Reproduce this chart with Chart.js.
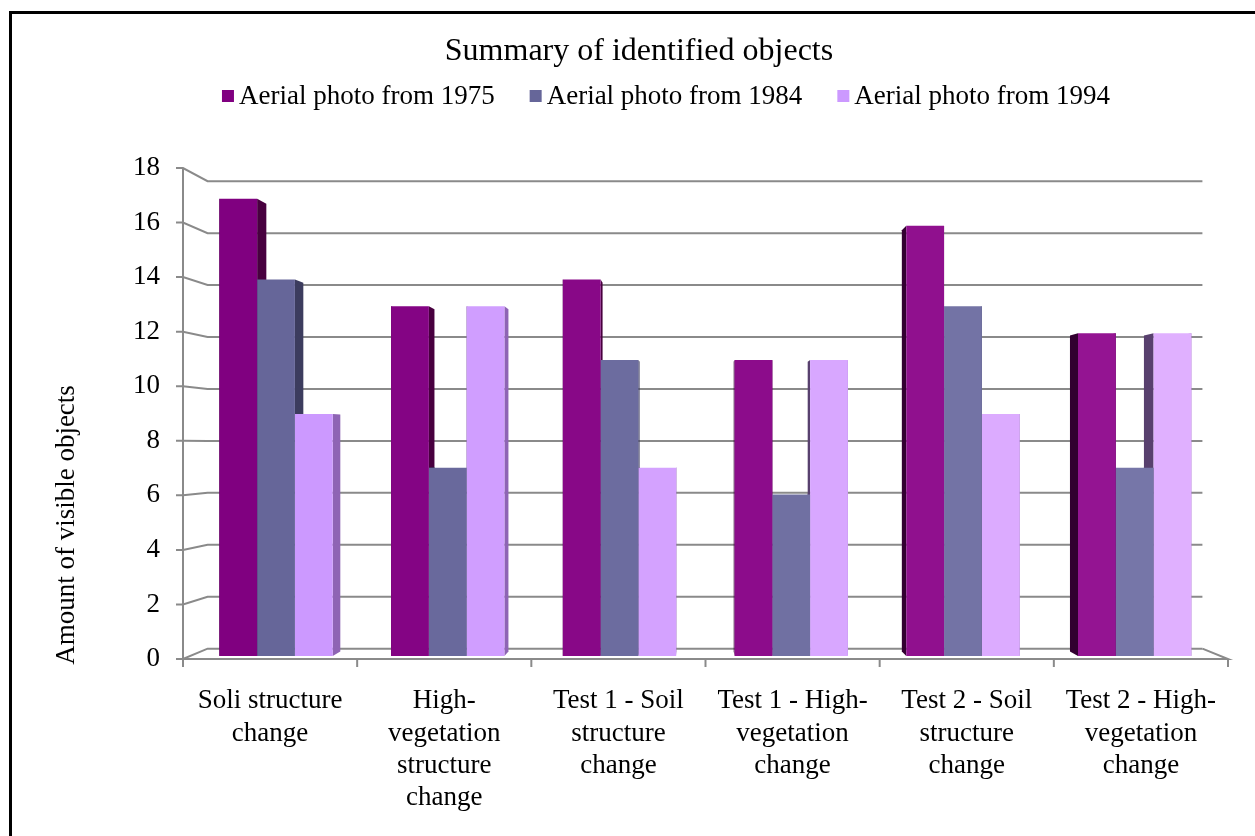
<!DOCTYPE html>
<html>
<head>
<meta charset="utf-8">
<script src="https://cdn.jsdelivr.net/npm/chart.js@4.4.1/dist/chart.umd.min.js"></script>
<style>
  html, body { margin: 0; padding: 0; background: #ffffff; overflow: hidden; }
  #wrap { position: relative; width: 1255px; height: 836px; }
  #frame { position: absolute; left: 9px; top: 11px; width: 1400px; height: 1000px;
           border-left: 3px solid #000; border-top: 3px solid #000; pointer-events: none; }
  canvas { position: absolute; left: 0; top: 0; }
</style>
</head>
<body>
<div id="wrap">
  <canvas id="chart" width="1255" height="836"></canvas>
  <div id="frame"></div>
</div>
<script>
// Category labels (wrapped the way they appear under the axis)
const categories = [
  ["Soli structure", "change"],
  ["High-", "vegetation", "structure", "change"],
  ["Test 1 - Soil", "structure", "change"],
  ["Test 1 - High-", "vegetation", "change"],
  ["Test 2 - Soil", "structure", "change"],
  ["Test 2 - High-", "vegetation", "change"]
];
const seriesNames = ["Aerial photo from 1975", "Aerial photo from 1984", "Aerial photo from 1994"];
const photo1975 = [17, 13, 14, 11, 16, 12];
const photo1984 = [14, 7, 11, 6, 13, 7];
const photo1994 = [9, 13, 7, 11, 9, 12];
const yTicks = [0, 2, 4, 6, 8, 10, 12, 14, 16, 18];
const chartTitle = "Summary of identified objects";
const yAxisTitle = "Amount of visible objects";

// front colour at the left of the plot, front colour at the right, shaded side faces
const palette = [
  { from: [128, 0, 128],   to: [148, 20, 146],  right: "#48003f", left: "#320030", legend: "#800080" },
  { from: [102, 102, 153], to: [118, 118, 168], right: "#3c3c5e", left: "#2e2e4a", legend: "#666699" },
  { from: [204, 153, 255], to: [224, 176, 255], right: "#8e64b4", left: "#58406e", legend: "#cc99ff" }
];

function mix(a, b, t) {
  const c = a.map((v, i) => Math.round(v + (b[i] - v) * t));
  return `rgb(${c[0]},${c[1]},${c[2]})`;
}

const SERIF = "'Liberation Serif', 'Times New Roman', serif";
const WALL_DEPTH = 0.952;   // back wall relative to the front plane
const BAR_PLANE = 0.986;    // front faces of the columns sit slightly behind the front plane
const BAR_DEPTH = 0.979;    // back faces relative to the column front faces
const GRID = "#8a8a8a";

function vanish(area) {
  return [area.left + 0.49 * (area.right - area.left), area.top + 0.56 * (area.bottom - area.top)];
}
function project(area, x, y, s) {
  const [vx, vy] = vanish(area);
  return [vx + (x - vx) * s, vy + (y - vy) * s];
}

// Draws the 3-D back wall, floor and the shaded sides of each column
const depth3d = {
  id: "depth3d",
  afterUpdate(chart) {
    // push the columns into their own depth plane
    const a = chart.chartArea;
    const [vx, vy] = vanish(a);
    chart.data.datasets.forEach((ds, di) => {
      chart.getDatasetMeta(di).data.forEach(el => {
        el.x = vx + (el.x - vx) * BAR_PLANE;
        el.y = vy + (el.y - vy) * BAR_PLANE;
        el.base = vy + (el.base - vy) * BAR_PLANE;
        el.width = el.width * BAR_PLANE;
      });
    });
  },
  beforeDatasetsDraw(chart) {
    const ctx = chart.ctx;
    const a = chart.chartArea;
    const ys = chart.scales.y;
    const xs = chart.scales.x;
    ctx.save();
    ctx.strokeStyle = GRID;
    ctx.lineWidth = 2;
    ctx.lineCap = "butt";

    yTicks.forEach(v => {
      const y = ys.getPixelForValue(v);
      const [bx, by] = project(a, a.left, y, WALL_DEPTH);
      const [rx] = project(a, a.right, y, WALL_DEPTH);
      ctx.beginPath();
      ctx.moveTo(a.left - 7, y);
      ctx.lineTo(a.left, y);
      ctx.lineTo(bx, by);
      ctx.lineTo(rx, by);
      ctx.stroke();
    });
    // floor: right edge and front edge
    const yb = ys.getPixelForValue(0);
    const [rbx, rby] = project(a, a.right, yb, WALL_DEPTH);
    ctx.beginPath();
    ctx.moveTo(rbx, rby);
    ctx.lineTo(a.right, yb);
    ctx.lineTo(a.left, yb);
    ctx.stroke();
    // vertical axis
    ctx.beginPath();
    ctx.moveTo(a.left, ys.getPixelForValue(18));
    ctx.lineTo(a.left, yb + 8);
    ctx.stroke();
    // category tick marks
    const n = categories.length;
    const cw = (a.right - a.left) / n;
    for (let i = 0; i <= n; i++) {
      const x = xs.getPixelForValue(0) - cw / 2 + i * cw;
      ctx.beginPath();
      ctx.moveTo(x, yb);
      ctx.lineTo(x, yb + 8);
      ctx.stroke();
    }

    // side faces of the columns (front faces are drawn over them)
    const [vx, vy] = vanish(a);
    chart.data.datasets.forEach((ds, di) => {
      const meta = chart.getDatasetMeta(di);
      meta.data.forEach(el => {
        const l = el.x - el.width / 2, r = el.x + el.width / 2;
        const t = el.y, b = el.base;
        [[l, palette[di].left], [r, palette[di].right]].forEach(([ex, col]) => {
          const p1 = [vx + (ex - vx) * BAR_DEPTH, vy + (t - vy) * BAR_DEPTH];
          const p2 = [vx + (ex - vx) * BAR_DEPTH, vy + (b - vy) * BAR_DEPTH];
          ctx.fillStyle = col;
          ctx.beginPath();
          ctx.moveTo(ex, t);
          ctx.lineTo(p1[0], p1[1]);
          ctx.lineTo(p2[0], p2[1]);
          ctx.lineTo(ex, b);
          ctx.closePath();
          ctx.fill();
        });
      });
    });
    ctx.restore();
  },
  afterDraw(chart) {
    const ctx = chart.ctx;
    const a = chart.chartArea;
    ctx.save();
    ctx.fillStyle = "#000";

    // chart title
    ctx.font = "32px " + SERIF;
    ctx.textAlign = "center";
    ctx.textBaseline = "middle";
    ctx.fillText(chartTitle, 639, 52);

    // legend row
    ctx.font = "27px " + SERIF;
    ctx.textAlign = "left";
    const box = 12, gapText = 5, gapItem = 35;
    const widths = seriesNames.map(s => ctx.measureText(s).width);
    const total = widths.reduce((s, w) => s + box + gapText + w, 0) + gapItem * (seriesNames.length - 1);
    let x = 666 - total / 2;
    const ly = 96;
    seriesNames.forEach((name, i) => {
      ctx.fillStyle = palette[i].legend;
      ctx.fillRect(x, ly - box / 2, box, box);
      ctx.fillStyle = "#000";
      ctx.fillText(name, x + box + gapText, ly + 1);
      x += box + gapText + widths[i] + gapItem;
    });

    // vertical axis title
    ctx.translate(67, a.bottom - 134);
    ctx.rotate(-Math.PI / 2);
    ctx.font = "27px " + SERIF;
    ctx.textAlign = "center";
    ctx.fillText(yAxisTitle, 0, 0);
    ctx.restore();
  }
};

const seriesData = [photo1975, photo1984, photo1994];

new Chart(document.getElementById("chart"), {
  type: "bar",
  data: {
    labels: categories,
    datasets: seriesData.map((d, i) => ({
      label: seriesNames[i],
      data: d,
      backgroundColor: c => mix(palette[i].from, palette[i].to, c.dataIndex / (categories.length - 1)),
      borderWidth: 0,
      categoryPercentage: 0.66,
      barPercentage: 1.0
    }))
  },
  options: {
    responsive: false,
    animation: false,
    layout: { padding: { left: 0, right: 27, top: 168, bottom: 0 } },
    plugins: {
      title: { display: false },
      legend: { display: false },
      tooltip: { enabled: false }
    },
    scales: {
      x: {
        grid: { display: false, drawTicks: false },
        border: { display: false },
        ticks: {
          color: "#000",
          font: { family: SERIF, size: 27, lineHeight: 1.2 },
          padding: 26,
          maxRotation: 0,
          autoSkip: false
        },
        afterFit: s => { s.height = 177; }
      },
      y: {
        min: 0,
        max: 18,
        grid: { display: false, drawTicks: false },
        border: { display: false },
        afterBuildTicks: s => { s.ticks = yTicks.map(v => ({ value: v })); },
        ticks: {
          color: "#000",
          font: { family: SERIF, size: 27 },
          padding: 23
        },
        afterFit: s => { s.width = 183; }
      }
    }
  },
  plugins: [depth3d]
});
</script>
</body>
</html>
